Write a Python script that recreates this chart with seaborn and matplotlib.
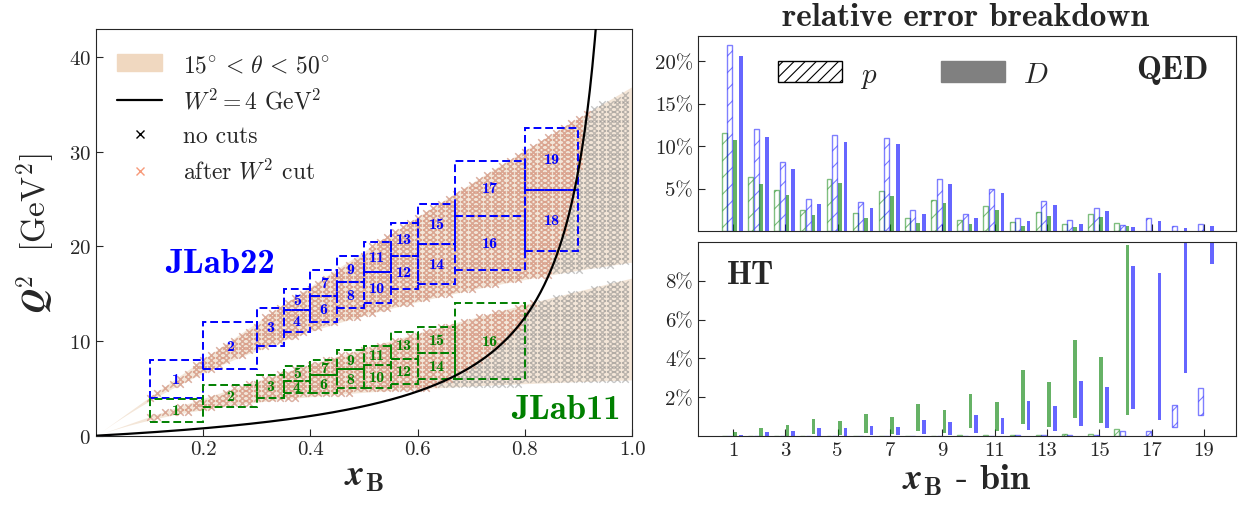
import numpy as np
import pandas as pd
import matplotlib
matplotlib.use("Agg")
import matplotlib.pyplot as plt
import seaborn as sns
from matplotlib.patches import Patch, Rectangle
from matplotlib.lines import Line2D

# --- kinematics (JLab beam energies, spectrometer angles, W2 cut) ---
beam_energy = {"JLab11": 11.0, "JLab22": 22.0}
theta_min, theta_max = 15.0, 50.0
w2_cut = 4.0
m_p = 0.938
x_step, q2_step = 0.0143, 0.5

# --- bin boxes (x_lo, x_hi, Q2_lo, Q2_hi) ---
bins_22 = [
    (0.10, 0.20, 4.0, 8.0), (0.20, 0.30, 7.0, 12.0), (0.30, 0.35, 9.5, 13.5),
    (0.35, 0.40, 11.0, 13.25), (0.35, 0.40, 13.25, 15.5),
    (0.40, 0.45, 12.0, 14.75), (0.40, 0.45, 14.75, 17.5),
    (0.45, 0.50, 13.5, 16.25), (0.45, 0.50, 16.25, 19.0),
    (0.50, 0.55, 14.0, 17.25), (0.50, 0.55, 17.25, 20.5),
    (0.55, 0.60, 15.5, 19.0), (0.55, 0.60, 19.0, 22.5),
    (0.60, 0.67, 16.0, 20.25), (0.60, 0.67, 20.25, 24.5),
    (0.67, 0.80, 17.5, 23.25), (0.67, 0.80, 23.25, 29.0),
    (0.80, 0.90, 19.5, 26.0), (0.80, 0.90, 26.0, 32.5),
]
bins_11 = [
    (0.10, 0.20, 1.5, 3.9), (0.20, 0.30, 3.0, 5.4), (0.30, 0.35, 4.0, 6.4),
    (0.35, 0.40, 4.5, 5.8), (0.35, 0.40, 5.8, 7.4),
    (0.40, 0.45, 4.5, 6.4), (0.40, 0.45, 6.4, 8.0),
    (0.45, 0.50, 5.0, 7.0), (0.45, 0.50, 7.0, 9.0),
    (0.50, 0.55, 5.0, 7.5), (0.50, 0.55, 7.5, 9.5),
    (0.55, 0.60, 5.5, 8.1), (0.55, 0.60, 8.1, 11.0),
    (0.60, 0.67, 6.0, 8.75), (0.60, 0.67, 8.75, 11.5),
    (0.67, 0.80, 6.0, 14.0),
]

# --- relative errors (%) per x_B bin ---
bin_ids = np.arange(1, 20)
qed_p11 = [11.6, 6.4, 4.9, 2.5, 6.2, 2.1, 4.7, 1.6, 3.7, 1.3, 3.0, 1.1, 2.3, 0.9, 2.0, 1.0]
qed_p22 = [21.9, 12.0, 8.1, 3.8, 11.3, 3.4, 11.0, 2.5, 6.2, 2.0, 5.0, 1.6, 3.5, 1.3, 2.7, 0.7, 1.6, 0.6, 0.9]
qed_d11 = [10.7, 5.6, 4.3, 1.9, 5.7, 1.6, 4.2, 1.0, 3.3, 0.9, 2.5, 0.6, 1.8, 0.5, 1.7, 0.6]
qed_d22 = [20.6, 11.1, 7.3, 3.2, 10.5, 2.7, 10.3, 2.0, 5.6, 1.6, 4.5, 1.2, 3.1, 0.9, 2.4, 0.5, 1.2, 0.4, 0.6]

ht_d11_lo = [0.0, 0.02, 0.03, 0.12, 0.07, 0.17, 0.12, 0.27, 0.19, 0.41, 0.27, 0.63, 0.50, 0.96, 0.70, 1.11]
ht_d11_hi = [0.24, 0.44, 0.58, 0.89, 0.79, 1.15, 0.99, 1.66, 1.35, 2.17, 1.76, 3.40, 2.79, 4.94, 4.07, 9.81]
ht_d22_lo = [0.0, 0.02, 0.03, 0.03, 0.03, 0.07, 0.07, 0.12, 0.07, 0.17, 0.14, 0.34, 0.29, 0.53, 0.44, 1.42, 0.84, 3.26, 8.85]
ht_d22_hi = [0.07, 0.24, 0.29, 0.44, 0.44, 0.53, 0.50, 0.84, 0.75, 1.09, 0.94, 1.81, 1.56, 2.84, 2.53, 8.74, 8.38, 12.0, 14.0]
ht_p11_lo = [0.0] * 16
ht_p11_hi = [0.01, 0.01, 0.02, 0.02, 0.02, 0.03, 0.03, 0.04, 0.04, 0.05, 0.05, 0.08, 0.08, 0.12, 0.10, 0.38]
ht_p22_lo = [0.0] * 17 + [0.50, 1.11]
ht_p22_hi = [0.01, 0.01, 0.01, 0.02, 0.02, 0.02, 0.02, 0.03, 0.03, 0.04, 0.04, 0.05, 0.05, 0.07, 0.07, 0.26, 0.27, 1.61, 2.50]

GREEN = "green"
BLUE = "blue"
BAND = "#f4e6d8"
SALMON = "#f79a7a"

sns.set_style("ticks")
plt.rcParams["font.family"] = "serif"
plt.rcParams["font.serif"] = ["cmr10"]
plt.rcParams["mathtext.fontset"] = "cm"
plt.rcParams["axes.unicode_minus"] = False
plt.rcParams["axes.formatter.use_mathtext"] = True
plt.rcParams["hatch.linewidth"] = 0.8

fig = plt.figure(figsize=(12.43, 5.10), dpi=100)
ax = fig.add_axes([0.0772, 0.1437, 0.4313, 0.7983])
ax_qed = fig.add_axes([0.5615, 0.5445, 0.4329, 0.3824])
ax_ht = fig.add_axes([0.5615, 0.1425, 0.4329, 0.3816])


def q2_theta(x, E, theta):
    s = 1 - np.cos(np.radians(theta))
    return 2 * E**2 * s * m_p * x / (m_p * x + E * s)


# ---------------- left panel ----------------
xs = np.linspace(0, 1, 400)
for E in beam_energy.values():
    ax.fill_between(xs, q2_theta(xs, E, theta_min), q2_theta(xs, E, theta_max),
                    color=BAND, lw=0, zorder=0)

rows = []
for name, E in beam_energy.items():
    for xv in np.arange(0.10, 0.995, x_step):
        lo, hi = q2_theta(xv, E, theta_min), q2_theta(xv, E, theta_max)
        for q in np.arange(0.5, 40, q2_step):
            if lo <= q <= hi:
                w2 = m_p**2 + q * (1 / xv - 1)
                rows.append((name, xv, q, w2 > w2_cut))
pts = pd.DataFrame(rows, columns=["exp", "x", "Q2", "pass"])

sns.scatterplot(data=pts, x="x", y="Q2", marker="x", color="gray", alpha=0.45,
                s=22, linewidth=1.0, ax=ax, zorder=1, legend=False)
sns.scatterplot(data=pts[pts["pass"]], x="x", y="Q2", marker="x", color=SALMON,
                alpha=0.5, s=22, linewidth=1.0, ax=ax, zorder=2, legend=False)

xw = np.linspace(0, 0.94, 400)
w_curve = pd.DataFrame({"x": xw, "Q2": (w2_cut - m_p**2) * xw / (1 - xw)})
sns.lineplot(data=w_curve, x="x", y="Q2", color="black", lw=1.6, ax=ax, zorder=5)

for boxes, col in [(bins_22, BLUE), (bins_11, GREEN)]:
    for i, (x0, x1, q0, q1) in enumerate(boxes):
        ax.add_patch(Rectangle((x0, q0), x1 - x0, q1 - q0, fill=False, ec=col,
                               lw=1.4, ls=(0, (4, 2)), zorder=4))
        ax.text((x0 + x1) / 2, (q0 + q1) / 2, str(i + 1), color=col,
                fontfamily="cmb10", fontsize=11.5, ha="center", va="center", zorder=6)

ax.text(0.129, 18.2, "JLab22", color=BLUE, fontfamily="cmb10", fontsize=25,
        ha="left", va="center")
ax.text(0.978, 2.8, "JLab11", color=GREEN, fontfamily="cmb10", fontsize=25,
        ha="right", va="center")

ax.set_xlim(0, 1)
ax.set_ylim(0, 43)
ax.set_xticks([0.2, 0.4, 0.6, 0.8, 1.0])
ax.set_xticklabels(["0.2", "0.4", "0.6", "0.8", "1.0"])
ax.set_yticks([0, 10, 20, 30, 40])
ax.tick_params(direction="in", labelsize=15, length=5)
ax.set_xlabel(r"$\boldsymbol{x}_{\mathbf{B}}$", fontsize=26, labelpad=2)
ax.set_ylabel(r"$\boldsymbol{Q}^{\mathbf{2}}$  [GeV$^2$]", fontsize=24, labelpad=8)

handles = [
    Patch(color="#f0d8c0", label=r"$15^{\circ}\, < \,\theta\, < \,50^{\circ}$"),
    Line2D([], [], color="black", lw=1.6, label=r"$W^2 = 4$ GeV$^2$"),
    Line2D([], [], color="black", marker="x", ls="", ms=6, label="no cuts"),
    Line2D([], [], color=SALMON, marker="x", ls="", ms=6, label=r"after $W^2$ cut"),
]
ax.legend(handles=handles, loc="upper left", frameon=False, fontsize=17,
          handlelength=1.9, handletextpad=0.9, labelspacing=0.5,
          bbox_to_anchor=(0.0, 0.99))

# ---------------- right panels ----------------
def bars(axis, idx, lo, hi, offset, width, col, hatched):
    pos = np.asarray(idx) + offset
    lo, hi = np.asarray(lo), np.asarray(hi)
    if hatched:
        axis.bar(pos, hi - lo, bottom=lo, width=width, facecolor="none",
                 edgecolor=col, alpha=0.5, hatch="//", lw=1.0)
    else:
        axis.bar(pos, hi - lo, bottom=lo, width=width, color=col, alpha=0.6, lw=0)


n11, n22 = len(qed_p11), len(qed_p22)
bars(ax_qed, bin_ids[:n11], np.zeros(n11), qed_p11, -0.33, 0.19, GREEN, True)
bars(ax_qed, bin_ids[:n22], np.zeros(n22), qed_p22, -0.12, 0.19, BLUE, True)
bars(ax_qed, bin_ids[:n11], np.zeros(n11), qed_d11, 0.08, 0.14, GREEN, False)
bars(ax_qed, bin_ids[:n22], np.zeros(n22), qed_d22, 0.30, 0.14, BLUE, False)

bars(ax_ht, bin_ids[:n11], ht_p11_lo, ht_p11_hi, -0.33, 0.19, GREEN, True)
bars(ax_ht, bin_ids[:n22], ht_p22_lo, ht_p22_hi, -0.12, 0.19, BLUE, True)
bars(ax_ht, bin_ids[:n11], ht_d11_lo, ht_d11_hi, 0.08, 0.14, GREEN, False)
bars(ax_ht, bin_ids[:n22], ht_d22_lo, ht_d22_hi, 0.30, 0.14, BLUE, False)

for a in (ax_qed, ax_ht):
    a.set_xlim(-0.34, 20.23)
    a.set_xticks(bin_ids[::2])
    a.tick_params(direction="in", labelsize=15, length=5)

ax_qed.set_ylim(0, 22.9)
ax_qed.set_yticks([5, 10, 15, 20])
ax_qed.set_yticklabels(["5%", "10%", "15%", "20%"])
ax_qed.set_xticklabels([])
ax_qed.text(0.948, 0.83, "QED", transform=ax_qed.transAxes, fontfamily="cmb10",
            fontsize=24, ha="right", va="center")
leg_h = [Patch(facecolor="white", edgecolor="black", hatch="///", label="$p$"),
         Patch(facecolor="gray", edgecolor="gray", label="$D$")]
ax_qed.legend(handles=leg_h, loc="center", bbox_to_anchor=(0.40, 0.80), ncol=2,
              frameon=False, fontsize=21, handlelength=2.2, handleheight=0.75,
              handletextpad=0.6, columnspacing=2.2)

ax_ht.set_ylim(0, 10)
ax_ht.set_yticks([2, 4, 6, 8])
ax_ht.set_yticklabels(["2%", "4%", "6%", "8%"])
ax_ht.set_xticklabels([str(b) for b in bin_ids[::2]])
ax_ht.text(0.054, 0.83, "HT", transform=ax_ht.transAxes, fontfamily="cmb10",
           fontsize=23, ha="left", va="center")
ax_ht.set_xlabel(r"$\boldsymbol{x}_{\mathbf{B}}$ - $\mathbf{bin}$", fontsize=26, labelpad=2)

fig.text(0.777, 0.994, "relative error breakdown", fontfamily="cmb10", fontsize=24,
         ha="center", va="top")

fig.savefig("out.png", dpi=100)
